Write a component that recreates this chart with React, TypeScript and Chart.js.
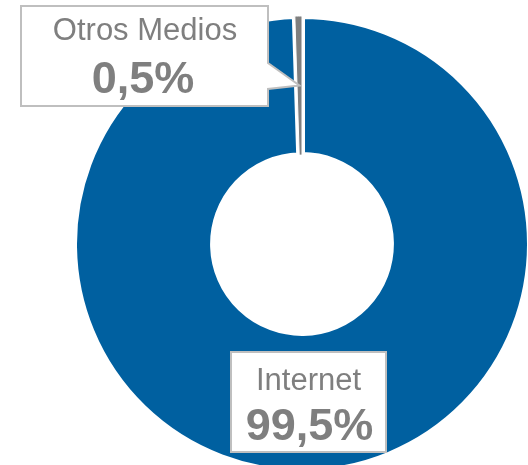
import React, { useEffect, useRef } from "react";
import { Chart, registerables } from "chart.js";

Chart.register(...registerables);

const categories = ["Internet", "Otros Medios"];
const shares = [99.5, 0.5];
const shareLabels = ["99,5%", "0,5%"];
const sliceColors = ["#0060A0", "#7F7F7F"];

const TEXT_COLOR = "#7F7F7F";
const BOX_BORDER = "#BFBFBF";
const FONT = "'Liberation Sans', Arial, sans-serif";

// label boxes: [left, top, right, bottom], text centres and baselines
const boxes = [
  { index: 0, rect: [231, 352, 386, 452], nameX: 308.5, valueX: 309.5, nameY: 390, valueY: 440, callout: false },
  { index: 1, rect: [21, 6, 268, 106], nameX: 145, valueX: 143, nameY: 40, valueY: 93, callout: true },
];

const labelPlugin = {
  id: "labelBoxes",
  afterDatasetsDraw(chart: any) {
    const ctx = chart.ctx as CanvasRenderingContext2D;
    const meta = chart.getDatasetMeta(0);
    ctx.save();
    for (const b of boxes) {
      const [l, t, r, btm] = b.rect;
      ctx.beginPath();
      ctx.moveTo(l, t);
      ctx.lineTo(r, t);
      if (b.callout) {
        const arc = meta.data[b.index];
        const p = arc.getCenterPoint();
        ctx.lineTo(r, t + 57);
        ctx.lineTo(p.x, p.y);
        ctx.lineTo(r, t + 83);
      }
      ctx.lineTo(r, btm);
      ctx.lineTo(l, btm);
      ctx.closePath();
      ctx.fillStyle = "#FFFFFF";
      ctx.fill();
      ctx.lineWidth = 2;
      ctx.strokeStyle = BOX_BORDER;
      ctx.lineJoin = "miter";
      ctx.stroke();

      ctx.fillStyle = TEXT_COLOR;
      ctx.textAlign = "center";
      ctx.textBaseline = "alphabetic";
      ctx.font = `31px ${FONT}`;
      ctx.fillText(categories[b.index], b.nameX, b.nameY);
      ctx.font = `bold 45px ${FONT}`;
      ctx.fillText(shareLabels[b.index], b.valueX, b.valueY);
    }
    ctx.restore();
  },
};

export default function App() {
  const canvasRef = useRef<HTMLCanvasElement | null>(null);

  useEffect(() => {
    const canvas = canvasRef.current;
    if (!canvas) return;
    const chart = new Chart(canvas, {
      type: "doughnut",
      data: {
        labels: categories,
        datasets: [
          {
            data: shares,
            backgroundColor: sliceColors,
            borderColor: "#FFFFFF",
            borderWidth: [6, 1],
            clip: false as any,
          },
        ],
      },
      options: {
        responsive: false,
        animation: false,
        radius: 228,
        cutout: "39%",
        layout: { padding: { left: 76, top: 23, right: 0, bottom: 0 } },
        plugins: {
          legend: { display: false },
          tooltip: { enabled: false },
        },
      },
      plugins: [labelPlugin],
    });
    return () => chart.destroy();
  }, []);

  return (
    <div
      style={{
        position: "absolute",
        left: 0,
        top: 0,
        width: 528,
        height: 465,
        overflow: "hidden",
        background: "#FFFFFF",
      }}
    >
      <canvas
        ref={canvasRef}
        width={528}
        height={465}
        style={{ display: "block", width: 528, height: 465 }}
      />
    </div>
  );
}
